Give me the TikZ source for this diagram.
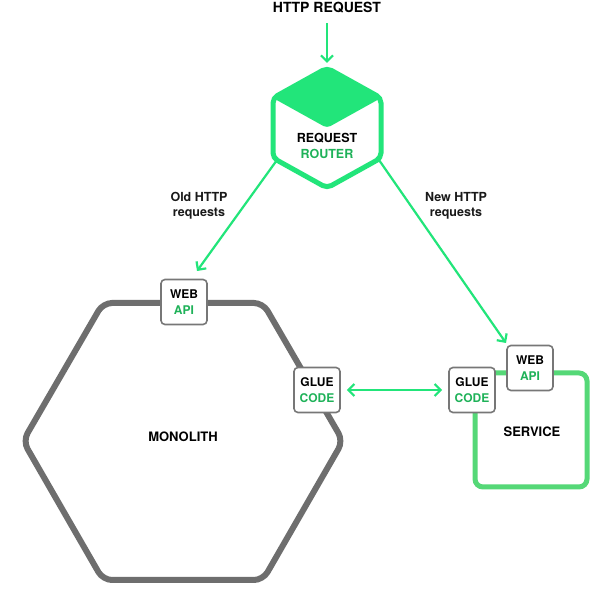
\documentclass[tikz,border=0pt]{standalone}
\usepackage{fontspec}
\setmainfont{TeX Gyre Heros}
\usetikzlibrary{arrows.meta}
\definecolor{rgreen}{HTML}{22E57A}
\definecolor{sgreen}{HTML}{55D877}
\definecolor{tgreen}{HTML}{1FB259}
\definecolor{mgray}{HTML}{6E6E6E}
\definecolor{bgray}{HTML}{777777}
\begin{document}
\begin{tikzpicture}[x=1pt,y=-1pt,
  smallbox/.style={draw=bgray,line width=1.6pt,fill=white,rounded corners=4pt,minimum width=46pt,minimum height=45pt,inner sep=0pt,align=center,font=\fontsize{12}{15.5}\selectfont\bfseries},
  lbl/.style={font=\fontsize{12.5}{15}\selectfont\bfseries,align=center,text=black!90},
  tip/.tip={Straight Barb[length=6pt,width=12pt,line width=2.2pt]},
  garrow/.style={draw=rgreen,line width=2.2pt,-tip},
  dgarrow/.style={draw=rgreen,line width=2.2pt,tip-tip},
]
\useasboundingbox[fill=white] (0,0) rectangle (614,593);

% title
\node[font=\fontsize{14}{16}\selectfont\bfseries] (http) at (327,8) {HTTP REQUEST};

% router
\draw[rgreen,line width=5pt,rounded corners=5pt,fill=white]
  (327,68) -- (381,98) -- (381,158) -- (327,188) -- (273,158) -- (273,98) -- cycle;
\fill[rgreen,rounded corners=4pt] (327,68) -- (381,98) -- (327,128) -- (273,98) -- cycle;
\node[font=\fontsize{12.5}{16}\selectfont\bfseries,align=center] (router) at (327,146) {REQUEST\\\textcolor{tgreen}{ROUTER}};
\coordinate (routerTop) at (327,63);
\coordinate (routerL) at (277,160);
\coordinate (routerR) at (379,160);

% monolith
\draw[mgray,line width=6pt,rounded corners=9pt]
  (23,441) -- (103,303) -- (263,303) -- (343,441) -- (263,580) -- (103,580) -- cycle;
\node[font=\fontsize{13}{15}\selectfont\bfseries] (mono) at (183,437) {MONOLITH};

% service
\draw[sgreen,line width=5pt,rounded corners=8pt] (475,373) rectangle (587,487);
\node[font=\fontsize{13}{15}\selectfont\bfseries] (service) at (532,432) {SERVICE};

% small boxes
\node[smallbox] (mweb) at (184,302) {WEB\\\textcolor{tgreen}{API}};
\node[smallbox] (mglue) at (317,390) {GLUE\\\textcolor{tgreen}{CODE}};
\node[smallbox] (sglue) at (472,390) {GLUE\\\textcolor{tgreen}{CODE}};
\node[smallbox] (sweb) at (530,368) {WEB\\\textcolor{tgreen}{API}};

% arrows
\draw[garrow] (http.south) ++(0,6) coordinate (httpb) -- (routerTop);
\coordinate (mwebEnd) at (197,271);
\draw[garrow] (routerL) -- (mwebEnd);
\coordinate (swebEnd) at (506,343);
\draw[garrow] (routerR) -- (swebEnd);
\draw[dgarrow] ([xshift=6pt]mglue.east) -- ([xshift=-6pt]sglue.west);

% labels
\node[lbl] (oldl) at (199,206) {Old HTTP\\requests};
\node[lbl] (newl) at (456,206) {New HTTP\\requests};
\end{tikzpicture}
\end{document}
